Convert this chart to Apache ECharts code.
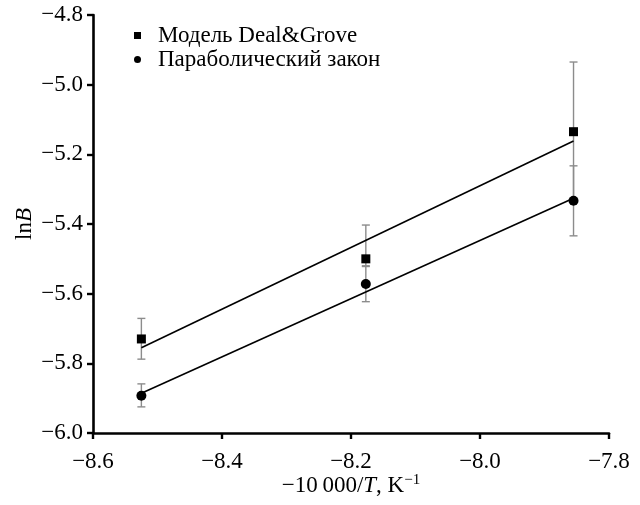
<!DOCTYPE html>
<html>
<head>
<meta charset="utf-8">
<script src="https://cdn.jsdelivr.net/npm/echarts@6/dist/echarts.min.js"></script>
<style>html,body{margin:0;padding:0;background:#fff}#c{width:640px;height:505px}</style>
</head>
<body>
<div id="c"></div>
<script>
// ---- data ----
const seriesNames = ['Модель Deal&Grove', 'Параболический закон'];
const xValues = [-8.525, -8.177, -7.855];          // -10000/T
const dealGroveY = [-5.730, -5.500, -5.135];       // ln B
const dealGroveLow = [-5.788, -5.520, -5.335];
const dealGroveHigh = [-5.671, -5.403, -4.935];
const parabolicY = [-5.893, -5.572, -5.333];
const parabolicLow = [-5.925, -5.623, -5.434];
const parabolicHigh = [-5.859, -5.522, -5.233];
const fitX = [-8.525, -7.855];
const dealGroveFitY = [-5.755, -5.162];
const parabolicFitY = [-5.886, -5.326];
const xTicks = [-8.6, -8.4, -8.2, -8.0, -7.8];
const yTicks = [-6.0, -5.8, -5.6, -5.4, -5.2, -5.0, -4.8];

const FONT = '"Liberation Serif", "Times New Roman", serif';
const FS = 23;
const fmt = v => (v < 0 ? '\u2212' : '') + Math.abs(v).toFixed(1);

const pts = (xs, ys) => xs.map((x, i) => [x, ys[i]]);
const errData = (xs, lo, hi) => xs.map((x, i) => [x, lo[i], hi[i]]);

function errRender(params, api) {
  const x = api.value(0), lo = api.value(1), hi = api.value(2);
  const a = api.coord([x, hi]), b = api.coord([x, lo]);
  const w = 4;
  const st = { stroke: '#8c8c8c', lineWidth: 1.4 };
  return {
    type: 'group',
    children: [
      { type: 'line', shape: { x1: a[0], y1: a[1], x2: b[0], y2: b[1] }, style: st },
      { type: 'line', shape: { x1: a[0] - w, y1: a[1], x2: a[0] + w, y2: a[1] }, style: st },
      { type: 'line', shape: { x1: b[0] - w, y1: b[1], x2: b[0] + w, y2: b[1] }, style: st }
    ]
  };
}

const chart = echarts.init(document.getElementById('c'));
chart.setOption({
  animation: false,
  backgroundColor: '#fff',
  grid: { left: 93, right: 31, top: 15, bottom: 72, containLabel: false, outerBoundsMode: 'none' },
  legend: {
    orient: 'vertical',
    left: 129, top: 19,
    itemGap: 1,
    itemWidth: 7, itemHeight: 7,
    data: [
      { name: seriesNames[0], icon: 'rect', itemStyle: { color: '#000' } },
      { name: seriesNames[1], icon: 'circle', itemStyle: { color: '#000' } }
    ],
    textStyle: { fontFamily: FONT, fontSize: FS, color: '#000', padding: [0, 0, 0, 12] }
  },
  xAxis: {
    type: 'value',
    min: xTicks[0], max: xTicks[xTicks.length - 1], interval: 0.2,
    name: '{a|\u221210\u2009000/}{i|T}{a|, K}{s|\u22121}',
    nameLocation: 'middle', nameGap: 40, nameMoveOverlap: false,
    nameTextStyle: {
      rich: {
        a: { fontFamily: FONT, fontSize: FS, color: '#000' },
        i: { fontFamily: FONT, fontSize: FS, fontStyle: 'italic', color: '#000' },
        s: { fontFamily: FONT, fontSize: 15, color: '#000', verticalAlign: 'top', padding: [0, 0, 10, 0] }
      }
    },
    axisLine: { onZero: false, lineStyle: { color: '#000', width: 2.6 } },
    axisTick: { show: true, inside: false, length: 6, lineStyle: { color: '#000', width: 2.4 } },
    axisLabel: { margin: 17, formatter: fmt, fontFamily: FONT, fontSize: FS, color: '#000' },
    splitLine: { show: false }
  },
  yAxis: {
    type: 'value',
    min: yTicks[0], max: yTicks[yTicks.length - 1], interval: 0.2,
    name: '{a|ln}{i|B}',
    nameLocation: 'middle', nameGap: 57, nameRotate: 90, nameMoveOverlap: false,
    nameTextStyle: {
      rich: {
        a: { fontFamily: FONT, fontSize: FS, color: '#000' },
        i: { fontFamily: FONT, fontSize: FS, fontStyle: 'italic', color: '#000' }
      }
    },
    axisLine: { onZero: false, lineStyle: { color: '#000', width: 2.6 } },
    axisTick: { show: true, inside: false, length: 6, lineStyle: { color: '#000', width: 2.4 } },
    axisLabel: { margin: 10, formatter: fmt, fontFamily: FONT, fontSize: FS, color: '#000' },
    splitLine: { show: false }
  },
  series: [
    { type: 'custom', renderItem: errRender, data: errData(xValues, dealGroveLow, dealGroveHigh), z: 1, silent: true },
    { type: 'custom', renderItem: errRender, data: errData(xValues, parabolicLow, parabolicHigh), z: 1, silent: true },
    { type: 'line', data: pts(fitX, dealGroveFitY), symbol: 'none', lineStyle: { color: '#000', width: 1.6 }, z: 2, silent: true },
    { type: 'line', data: pts(fitX, parabolicFitY), symbol: 'none', lineStyle: { color: '#000', width: 1.6 }, z: 2, silent: true },
    { name: seriesNames[0], type: 'scatter', data: pts(xValues, dealGroveY), symbol: 'rect', symbolSize: 9, itemStyle: { color: '#000', opacity: 1 }, z: 3 },
    { name: seriesNames[1], type: 'scatter', data: pts(xValues, parabolicY), symbol: 'circle', symbolSize: 10, itemStyle: { color: '#000', opacity: 1 }, z: 3 }
  ]
});
</script>
</body>
</html>
